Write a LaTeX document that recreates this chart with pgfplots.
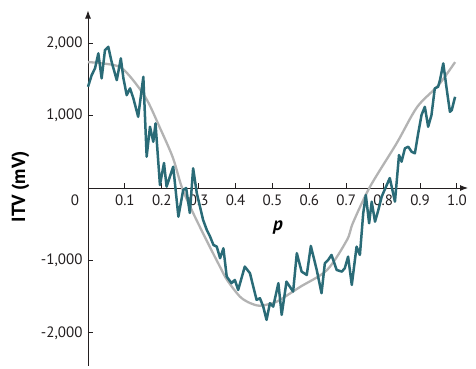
\documentclass[border=0pt]{standalone}
\usepackage{pgfplots}
\pgfplotsset{compat=1.18}
\usetikzlibrary{arrows.meta}
\usepackage{fontspec}
\setmainfont{PT Sans}
\definecolor{teal1}{HTML}{2A6B77}
\definecolor{gray1}{HTML}{B3B3B3}
\definecolor{axc}{HTML}{231F20}
\begin{document}
\begin{tikzpicture}
\begin{axis}[
  scale only axis,
  width=380pt, height=355pt,
  xmin=0, xmax=1.03, ymin=-2450, ymax=2450,
  axis lines=middle,
  axis line style={axc, line width=0.9pt, -{Latex[length=8pt,width=6pt]}},
  every tick/.style={axc, line width=0.9pt},
  tick align=inside,
  major tick length=5pt,
  xtick={0.1,0.2,0.3,0.4,0.5,0.6,0.7,0.8,0.9,1.0},
  xticklabels={0.1,0.2,0.3,0.4,0.5,0.6,0.7,0.8,0.9,1.0},
  ytick={-2000,-1000,1000,2000},
  yticklabels={{-2,000},{-1,000},{1,000},{2,000}},
  tick label style={font=\fontsize{15}{18}\selectfont, text=axc},
  xticklabel style={anchor=north, yshift=-3pt},
  yticklabel style={anchor=east, xshift=-2pt},
  xlabel={\textbf{\textit{p}}},
  ylabel={\textbf{ITV (mV)}},
  every axis x label/.style={at={(axis cs:0.515,-540)}, anchor=center, font=\fontsize{19}{22}\selectfont},
  every axis y label/.style={at={(axis cs:-0.183,20)}, anchor=center, rotate=90, font=\fontsize{19}{22}\selectfont},
  clip=false,
]
\coordinate (O) at (axis cs:0,0);
\node[font=\fontsize{15}{18}\selectfont, text=axc] at (axis cs:-0.035,-165) {0};
\addplot[gray1, line width=2.3pt, smooth, tension=0.5] coordinates {
(0,1738) (0.04,1720) (0.087,1669) (0.122,1490) (0.160,1214) (0.195,830) (0.23,420) (0.255,0) (0.285,-345) (0.322,-730) (0.358,-1090) (0.377,-1270) (0.412,-1500) (0.44,-1590) (0.466,-1625) (0.50,-1590) (0.52,-1545) (0.575,-1365) (0.648,-1131) (0.702,-717) (0.718,-483) (0.764,14) (0.837,621) (0.892,1117) (0.95,1420) (0.995,1738)
};
\addplot[teal1, line width=2.5pt, line join=round] coordinates {
(0.000,1397) (0.010,1558) (0.019,1651) (0.028,1858) (0.037,1513) (0.046,1903) (0.055,1949) (0.064,1742) (0.078,1489) (0.089,1789) (0.096,1513) (0.105,1282) (0.114,1375) (0.123,1237) (0.136,983) (0.150,1535) (0.159,432) (0.168,845) (0.177,638) (0.183,892) (0.195,41) (0.206,345) (0.213,18) (0.231,294) (0.245,-396) (0.258,-28) (0.266,0) (0.276,-345) (0.285,272) (0.295,-73) (0.312,-441) (0.322,-579) (0.331,-672) (0.340,-786) (0.349,-809) (0.358,-969) (0.367,-832) (0.376,-1223) (0.389,-1314) (0.398,-1269) (0.407,-1407) (0.425,-1085) (0.439,-1176) (0.448,-1361) (0.457,-1544) (0.466,-1521) (0.475,-1637) (0.484,-1820) (0.493,-1590) (0.502,-1637) (0.516,-1314) (0.525,-1751) (0.538,-1292) (0.547,-1361) (0.556,-1430) (0.566,-900) (0.579,-1154) (0.593,-1200) (0.604,-800) (0.620,-1131) (0.633,-1452) (0.642,-1038) (0.651,-993) (0.660,-924) (0.674,-1131) (0.688,-1154) (0.696,-1107) (0.705,-947) (0.715,-1338) (0.728,-809) (0.737,-924) (0.746,-349) (0.753,-97) (0.762,-487) (0.769,-189) (0.778,-465) (0.787,-303) (0.796,-120) (0.805,-14) (0.818,138) (0.832,-189) (0.843,455) (0.850,363) (0.859,547) (0.868,570) (0.877,501) (0.886,478) (0.895,754) (0.904,1007) (0.913,1121) (0.922,845) (0.931,1007) (0.940,1375) (0.949,1397) (0.954,1489) (0.963,1720) (0.972,1375) (0.981,1052) (0.986,1076) (0.995,1259)
};
\end{axis}
\pgfresetboundingbox
\path ([shift={(-88pt,188pt)}]O) rectangle ([shift={(388pt,-180pt)}]O);
\end{tikzpicture}
\end{document}
